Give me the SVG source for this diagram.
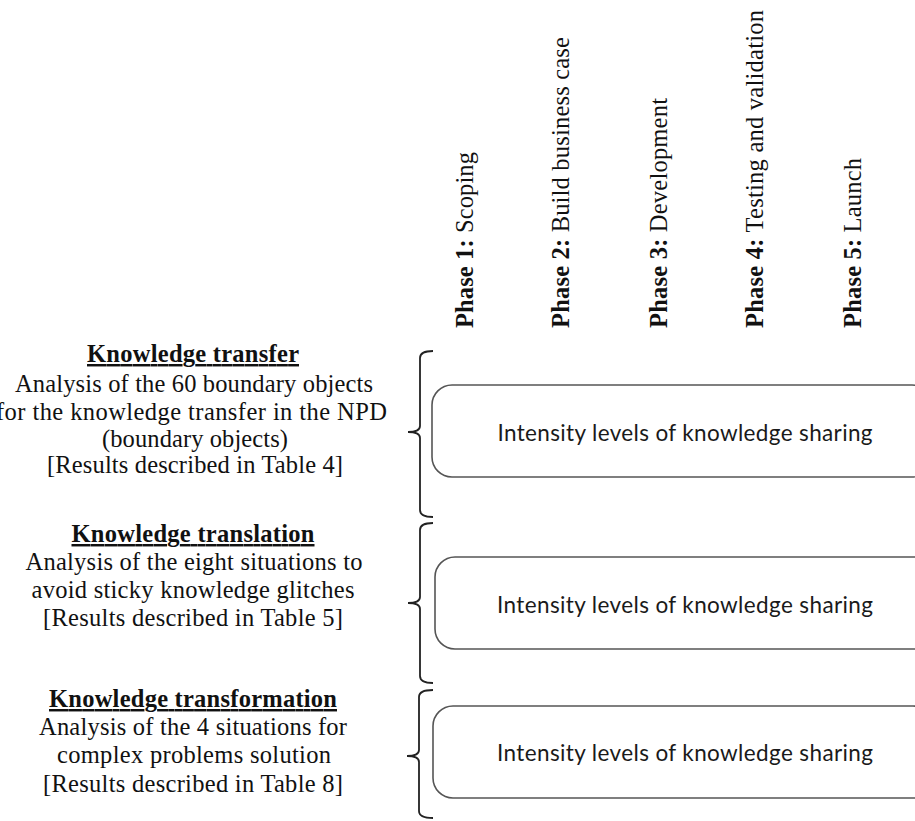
<svg xmlns="http://www.w3.org/2000/svg" width="915" height="821" viewBox="0 0 915 821">
<style>
.t{font-family:"Liberation Serif","Times New Roman",serif;font-size:24.5px;fill:#111;text-anchor:middle}
.h{font-weight:bold;text-decoration:underline}
.ph{font-family:"Liberation Serif","Times New Roman",serif;font-size:24.5px;fill:#111}
.b{font-weight:bold}
.box{fill:#fff;stroke:#555;stroke-width:1.6}
.bt{font-family:Lato,"Open Sans",sans-serif;font-size:22.5px;fill:#1a1a1a;text-anchor:middle}
.br{fill:none;stroke:#222;stroke-width:1.8}
</style>
<rect width="915" height="821" fill="#fff"/>
<g id="phases">
<text class="ph" transform="translate(473,328) rotate(-90)" textLength="176" lengthAdjust="spacing"><tspan class="b">Phase 1:</tspan> Scoping</text>
<text class="ph" transform="translate(569,328) rotate(-90)" textLength="291" lengthAdjust="spacing"><tspan class="b">Phase 2:</tspan> Build business case</text>
<text class="ph" transform="translate(667,328) rotate(-90)" textLength="230" lengthAdjust="spacing"><tspan class="b">Phase 3:</tspan> Development</text>
<text class="ph" transform="translate(763,328) rotate(-90)" textLength="318" lengthAdjust="spacing"><tspan class="b">Phase 4:</tspan> Testing and validation</text>
<text class="ph" transform="translate(861,328) rotate(-90)" textLength="170" lengthAdjust="spacing"><tspan class="b">Phase 5:</tspan> Launch</text>
</g>
<g id="transfer">
<text class="t h" x="193" y="362" textLength="212" lengthAdjust="spacing">Knowledge transfer</text>
<text class="t" x="194" y="392" textLength="358" lengthAdjust="spacing">Analysis of the 60 boundary objects</text>
<text class="t" x="191.5" y="420" textLength="391" lengthAdjust="spacing">for the knowledge transfer in the NPD</text>
<text class="t" x="195" y="447" textLength="186" lengthAdjust="spacing">(boundary objects)</text>
<text class="t" x="195" y="473" textLength="296" lengthAdjust="spacing">[Results described in Table 4]</text>
</g>
<g id="translation">
<text class="t h" x="193" y="542" textLength="243" lengthAdjust="spacing">Knowledge translation</text>
<text class="t" x="194" y="570" textLength="337" lengthAdjust="spacing">Analysis of the eight situations to</text>
<text class="t" x="193" y="598" textLength="323" lengthAdjust="spacing">avoid sticky knowledge glitches</text>
<text class="t" x="193" y="626" textLength="300" lengthAdjust="spacing">[Results described in Table 5]</text>
</g>
<g id="transformation">
<text class="t h" x="193" y="707" textLength="288" lengthAdjust="spacing">Knowledge transformation</text>
<text class="t" x="193" y="735" textLength="308" lengthAdjust="spacing">Analysis of the 4 situations for</text>
<text class="t" x="194" y="763" textLength="274" lengthAdjust="spacing">complex problems solution</text>
<text class="t" x="193" y="792" textLength="300" lengthAdjust="spacing">[Results described in Table 8]</text>
</g>
<g id="connectors">
<path class="br" d="M433,351 Q420,351 420,358 L420,426 Q420,432 408,432 Q420,432 420,438 L420,510 Q420,517 433,517"/>
<path class="br" d="M433,523 Q420,523 420,530 L420,597 Q420,603 408,603 Q420,603 420,609 L420,676 Q420,683 433,683"/>
<path class="br" d="M433,690 Q419,690 419,697 L419,750 Q419,756 407,756 Q419,756 419,762 L419,811 Q419,818 433,818"/>
</g>
<g id="box1">
<rect class="box" x="432" y="385" width="500" height="92" rx="20"/>
<text class="bt" x="685" y="441" textLength="375" lengthAdjust="spacing">Intensity levels of knowledge sharing</text>
</g>
<g id="box2">
<rect class="box" x="435" y="557" width="500" height="92" rx="20"/>
<text class="bt" x="685" y="613" textLength="376" lengthAdjust="spacing">Intensity levels of knowledge sharing</text>
</g>
<g id="box3">
<rect class="box" x="433" y="706" width="500" height="92" rx="20"/>
<text class="bt" x="685" y="761" textLength="376" lengthAdjust="spacing">Intensity levels of knowledge sharing</text>
</g>
</svg>
